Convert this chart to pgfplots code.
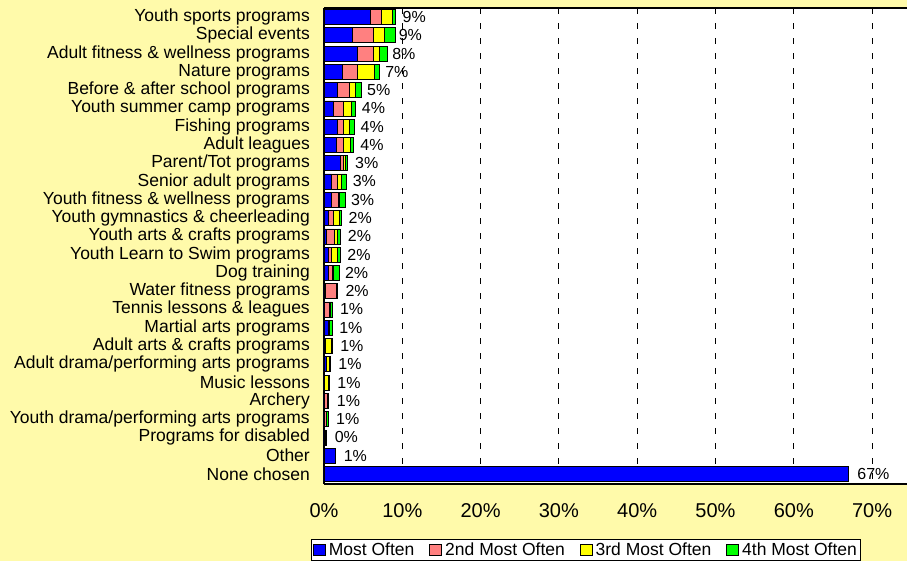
\documentclass[border=0pt]{standalone}
\usepackage{pgfplots}
\pgfplotsset{compat=1.18}
\usepackage{fontspec}
\setmainfont{Liberation Sans}
\definecolor{bg}{RGB}{255,250,170}
\definecolor{cblue}{RGB}{0,0,255}
\definecolor{cpink}{RGB}{255,128,128}
\definecolor{cyellow}{RGB}{255,255,0}
\definecolor{cgreen}{RGB}{0,255,0}
\pgfplotsset{
  mylegend/.style={legend image code/.code={\draw[##1,line width=0.8bp] (0bp,-5.5bp) rectangle (12bp,5.5bp);}},
}
\begin{document}
\begin{tikzpicture}
\useasboundingbox[fill=bg] (-324bp,-77bp) rectangle (583bp,484bp);
\begin{axis}[
  at={(0,0)}, anchor=south west,
  scale only axis, width=583bp, height=476bp,
  xbar stacked, bar width=15bp,
  xmin=0, xmax=74.46, ymin=-0.49, ymax=25.55, y dir=reverse,
  axis background/.style={fill=white},
  axis y line*=left, axis x line*=box,
  axis line style={line width=2bp, black},
  major tick length=0pt,
  xtick={0,10,...,70},
  xticklabel={\pgfmathprintnumber{\tick}\%},
  /pgf/number format/assume math mode=true,
  xticklabel style={font=\fontsize{20bp}{24bp}\selectfont, inner sep=0pt, yshift=-19bp},
  ytick={0,...,25},
  yticklabels={Youth sports programs,Special events,Adult fitness \& wellness programs,Nature programs,Before \& after school programs,Youth summer camp programs,Fishing programs,Adult leagues,Parent/Tot programs,Senior adult programs,Youth fitness \& wellness programs,Youth gymnastics \& cheerleading,Youth arts \& crafts programs,Youth Learn to Swim programs,Dog training,Water fitness programs,Tennis lessons \& leagues,Martial arts programs,Adult arts \& crafts programs,Adult drama/performing arts programs,Music lessons,Archery,Youth drama/performing arts programs,Programs for disabled,Other,None chosen},
  yticklabel style={font=\fontsize{17.5bp}{20bp}\selectfont, inner sep=0pt, xshift=-14bp},
  xmajorgrids, grid style={black, line width=0.8bp, dash pattern=on 6bp off 9bp},
  legend columns=4,
  legend style={at={(0.4494,-0.1155)}, anchor=north, draw=black, line width=0.8bp, fill=white,
    font=\fontsize{17.5bp}{20bp}\selectfont, inner sep=1.5bp,
    /tikz/every even column/.append style={column sep=13bp},
    /tikz/every odd column/.append style={column sep=1bp}},
]
\addplot[fill=cblue, draw=black, line width=0.6bp, mylegend] coordinates {
(5.9,0) (3.6,1) (4.2,2) (2.4,3) (1.75,4) (1.25,5) (1.75,6) (1.53,7) (2.04,8) (0.94,9)
(0.9,10) (0.6,11) (0.25,12) (0.5,13) (0.5,14) (0.15,15) (0.1,16) (0.5,17) (0.1,18) (0.25,19)
(0.05,20) (0.1,21) (0.05,22) (0.1,23) (1.4,24) (67,25)};
\addplot[fill=cpink, draw=black, line width=0.6bp, mylegend] coordinates {
(1.45,0) (2.7,1) (2.1,2) (1.9,3) (1.45,4) (1.2,5) (0.72,6) (0.98,7) (0.43,8) (0.81,9)
(0.9,10) (0.55,11) (1.1,12) (0.4,13) (0.6,14) (1.36,15) (0.55,16) (0.1,17) (0.05,18) (0.05,19)
(0.05,20) (0.3,21) (0.2,22) (0.05,23) (0.001,24) (0.001,25)};
\addplot[fill=cyellow, draw=black, line width=0.6bp, mylegend] coordinates {
(1.36,0) (1.45,1) (0.8,2) (2.1,3) (0.77,4) (1.0,5) (0.81,6) (0.85,7) (0.26,8) (0.51,9)
(0.15,10) (0.75,11) (0.4,12) (0.77,13) (0.1,14) (0.05,15) (0.1,16) (0.05,17) (0.75,18) (0.35,19)
(0.45,20) (0.05,21) (0.05,22) (0.05,23) (0.001,24) (0.001,25)};
\addplot[fill=cgreen, draw=black, line width=0.6bp, mylegend,
  point meta=explicit symbolic,
  nodes near coords={\pgfplotspointmeta},
  every node near coord/.style={anchor=west, inner sep=0pt, xshift=8.5bp, black,
    font=\fontsize{16bp}{19bp}\selectfont}] coordinates {
(0.43,0) [9\%] (1.36,1) [9\%] (1.0,2) [8\%] (0.6,3) [7\%] (0.85,4) [5\%] (0.55,5) [4\%]
(0.55,6) [4\%] (0.34,7) [4\%] (0.26,8) [3\%] (0.6,9) [3\%] (0.75,10) [3\%] (0.25,11) [2\%]
(0.35,12) [2\%] (0.38,13) [2\%] (0.72,14) [2\%] (0.15,15) [2\%] (0.35,16) [1\%] (0.35,17) [1\%]
(0.12,18) [1\%] (0.15,19) [1\%] (0.1,20) [1\%] (0.15,21) [1\%] (0.25,22) [1\%] (0.1,23) [0\%]
(0.001,24) [1\%] (0.001,25) [67\%]};
\legend{Most Often, 2nd Most Often, 3rd Most Often, 4th Most Often}
\end{axis}
\end{tikzpicture}
\end{document}
